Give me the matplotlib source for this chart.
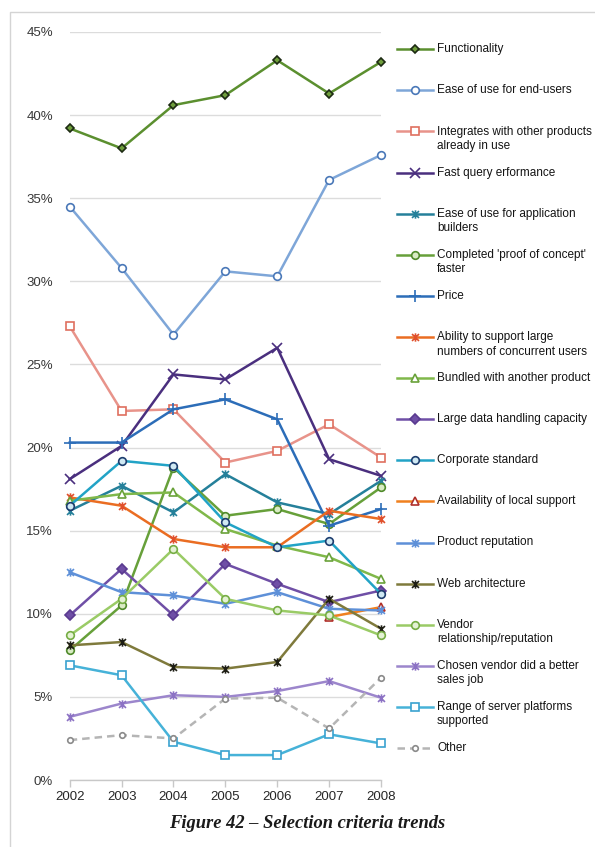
import numpy as np
import matplotlib
matplotlib.use('Agg')
import matplotlib.pyplot as plt
from matplotlib.lines import Line2D
from matplotlib.path import Path
from matplotlib.patches import Rectangle

plt.rcParams['font.family'] = ['Liberation Sans', 'DejaVu Sans']

years = [2002, 2003, 2004, 2005, 2006, 2007, 2008]

# Share of respondents naming each criterion (%), None where no data
functionality = [39.2, 38.0, 40.6, 41.2, 43.3, 41.3, 43.2]
ease_end_users = [34.5, 30.8, 26.8, 30.6, 30.3, 36.1, 37.6]
integrates = [27.3, 22.2, 22.3, 19.1, 19.8, 21.4, 19.4]
fast_query = [18.1, 20.1, 24.4, 24.1, 26.0, 19.3, 18.3]
ease_app_builders = [16.2, 17.7, 16.1, 18.4, 16.7, 16.0, 18.0]
proof_of_concept = [7.8, 10.5, 18.8, 15.9, 16.3, 15.4, 17.6]
price = [20.3, 20.3, 22.3, 22.9, 21.7, 15.3, 16.3]
concurrent_users = [17.0, 16.5, 14.5, 14.0, 14.0, 16.2, 15.7]
bundled = [16.8, 17.2, 17.3, 15.1, 14.1, 13.4, 12.1]
large_data = [9.9, 12.7, 9.9, 13.0, 11.8, 10.7, 11.4]
corporate_std = [16.5, 19.2, 18.9, 15.5, 14.0, 14.4, 11.2]
local_support = [None, None, None, None, None, 9.8, 10.4]
product_rep = [12.5, 11.3, 11.1, 10.6, 11.3, 10.3, 10.2]
web_arch = [8.1, 8.3, 6.8, 6.7, 7.1, 10.9, 9.1]
vendor_rel = [8.7, 10.9, 13.9, 10.9, 10.2, 9.9, 8.7]
sales_job = [3.8, 4.6, 5.1, 5.0, 5.35, 5.95, 4.95]
server_platforms = [6.9, 6.3, 2.3, 1.5, 1.5, 2.75, 2.2]
other = [2.4, 2.7, 2.5, 4.9, 4.95, 3.1, 6.15]

# Excel-style "star" marker: an x with a vertical stroke
STAR = Path([(-1, -1), (1, 1), (-1, 1), (1, -1), (0, -1.2), (0, 1.2)],
            [Path.MOVETO, Path.LINETO] * 3)

# label lines, values, line colour, marker, face, edge, size, linestyle
series = [
    (['Functionality'], functionality, '#5b8f2f', 'D', '#6f9e3c', '#1c2a12', 4, '-'),
    (['Ease of use for end-users'], ease_end_users, '#7ea6d8', 'o', 'white', '#4a78b8', 5.5, '-'),
    (['Integrates with other products', 'already in use'], integrates, '#e8938a', 's', 'white', '#df6f5f', 5.5, '-'),
    (['Fast query erformance'], fast_query, '#4a2f7e', 'x', 'none', '#4a2f7e', 7, '-'),
    (['Ease of use for application', 'builders'], ease_app_builders, '#25809a', STAR, 'none', '#25809a', 6, '-'),
    (["Completed 'proof of concept'", 'faster'], proof_of_concept, '#67a03a', 'o', '#d9ebc4', '#4f8a2a', 5.5, '-'),
    (['Price'], price, '#2c6db8', '+', 'none', '#2c6db8', 8, '-'),
    (['Ability to support large', 'numbers of concurrent users'], concurrent_users, '#ea6d22', STAR, 'none', '#e0502c', 6, '-'),
    (['Bundled with another product'], bundled, '#80b84a', '^', 'white', '#6aa23a', 5.5, '-'),
    (['Large data handling capacity'], large_data, '#6f4fa6', 'D', '#6f4fa6', '#5a3a90', 5.5, '-'),
    (['Corporate standard'], corporate_std, '#22a3c6', 'o', '#cfe9f3', '#1d3d6e', 5.5, '-'),
    (['Availability of local support'], local_support, '#f0801e', '^', 'white', '#b0302a', 5.5, '-'),
    (['Product reputation'], product_rep, '#5e90d8', STAR, 'none', '#5e90d8', 6, '-'),
    (['Web architecture'], web_arch, '#7f7a3c', STAR, 'none', '#1e1e14', 6, '-'),
    (['Vendor', 'relationship/reputation'], vendor_rel, '#9acb66', 'o', '#e4f2d4', '#76ad44', 5.5, '-'),
    (['Chosen vendor did a better', 'sales job'], sales_job, '#9c86cc', STAR, 'none', '#8c72c4', 6, '-'),
    (['Range of server platforms', 'supported'], server_platforms, '#46b2d8', 's', 'white', '#3aa2d0', 5.5, '-'),
    (['Other'], other, '#b5b5b5', 'o', 'white', '#8a8a8a', 4, '--'),
]

W, H = 595, 847
fig = plt.figure(figsize=(W / 100, H / 100), dpi=100)
ax = fig.add_axes([69.7 / W, 1 - 780 / H, (381 - 69.7) / W, (780 - 32) / H])

for labels, vals, color, marker, face, edge, ms, ls in series:
    y = np.array([np.nan if v is None else v for v in vals], dtype=float)
    ax.plot(years, y, color=color, lw=1.8, ls=ls, marker=marker, ms=ms,
            mfc=face, mec=edge, mew=1.2, dashes=(3, 2) if ls == '--' else (None, None),
            zorder=3, clip_on=False)

ax.set_xlim(years[0], years[-1])
ax.set_ylim(0, 45)
ax.set_yticks(np.arange(0, 46, 5))
ax.set_yticklabels([f'{v}%' for v in range(0, 46, 5)])
ax.set_xticks(years)
ax.grid(axis='y', color='#dcdcdc', lw=1.0)
ax.set_axisbelow(True)
for side in ['left', 'right', 'top']:
    ax.spines[side].set_visible(False)
ax.spines['bottom'].set_color('#c8c8c8')
ax.spines['bottom'].set_linewidth(1.0)
ax.tick_params(axis='y', length=0, pad=12, labelsize=9.5, labelcolor='#383838')
ax.tick_params(axis='x', length=5, width=1.0, color='#c8c8c8', pad=3,
               labelsize=9.5, labelcolor='#262626')
ax.patch.set_alpha(0)

# Legend drawn by hand so the handle sits on the first text line
tf = fig.transFigure
for i, (labels, vals, color, marker, face, edge, ms, ls) in enumerate(series):
    yp = 49.3 + i * 41.1
    yf = 1 - yp / H
    handle = Line2D([397 / W, 415 / W, 433 / W], [yf, yf, yf], transform=tf,
                    color=color, lw=1.8, marker=marker, ms=ms, mfc=face, mec=edge,
                    mew=1.2, markevery=[1],
                    dashes=(3, 2) if ls == '--' else (None, None))
    fig.add_artist(handle)
    for j, line in enumerate(labels):
        fig.text(437 / W, 1 - (yp + j * 14.5) / H, line, fontsize=8.5,
                 color='#141414', va='center', ha='left')

# Thin frame around the figure block
fig.add_artist(Rectangle((10 / W, -0.1), 1.2, 1 - 12 / H + 0.1, transform=tf,
                         fill=False, ec='#d4d4d4', lw=1.0))

fig.text(307 / W, 1 - 823 / H, 'Figure 42 – Selection criteria trends',
         fontsize=13.3, fontweight='bold', fontstyle='italic',
         family=['Liberation Serif', 'DejaVu Serif'], color='#1a1a1a',
         ha='center', va='center')

fig.savefig('out.png', dpi=100)
